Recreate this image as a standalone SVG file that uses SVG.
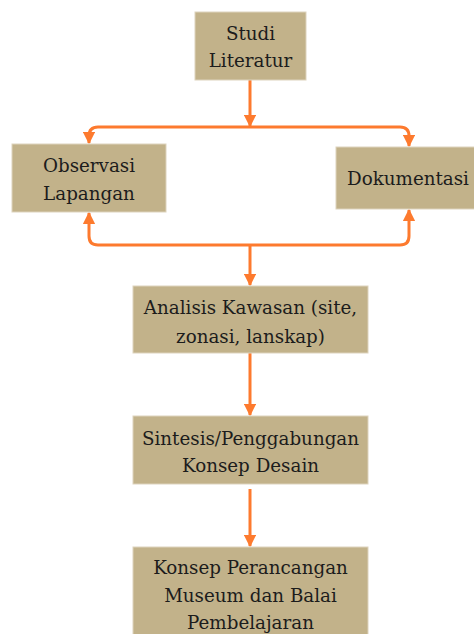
<svg xmlns="http://www.w3.org/2000/svg" width="474" height="634" viewBox="0 0 474 634">
<defs>
<style>
.box{fill:#c2b28a;stroke:#ddd3bd;stroke-width:1}
.t{font-family:"DejaVu Serif","Liberation Serif",serif;font-size:18.3px;fill:#1c1c1c;text-anchor:middle;dominant-baseline:central}
.c{fill:none;stroke:#fd7a2e;stroke-width:3;stroke-linejoin:round}
</style>
<marker id="ah" viewBox="0 0 10 10" refX="9" refY="5" markerWidth="4.2" markerHeight="4.2" orient="auto" markerUnits="strokeWidth">
<path d="M0,0 L10,5 L0,10 z" fill="#fd7a2e"/>
</marker>
</defs>
<rect width="474" height="634" fill="#fff"/>
<g id="connectors">
<path class="c" d="M250,80 V126" marker-end="url(#ah)"/>
<path class="c" d="M250,127 H98 Q89,127 89,136 V143" marker-end="url(#ah)"/>
<path class="c" d="M250,127 H400 Q409,127 409,136 V146" marker-end="url(#ah)"/>
<path class="c" d="M250,245 H98 Q89,245 89,236 V213" marker-end="url(#ah)"/>
<path class="c" d="M250,245 H400 Q409,245 409,236 V210" marker-end="url(#ah)"/>
<path class="c" d="M250,245 V285" marker-end="url(#ah)"/>
<path class="c" d="M250,353 V415" marker-end="url(#ah)"/>
<path class="c" d="M250,489 V546" marker-end="url(#ah)"/>
</g>
<g id="studi">
<rect class="box" x="195" y="12" width="111" height="68"/>
<text class="t" x="250.5" y="33">Studi</text>
<text class="t" x="250.5" y="60">Literatur</text>
</g>
<g id="observasi">
<rect class="box" x="12" y="144" width="154" height="68"/>
<text class="t" x="89" y="165">Observasi</text>
<text class="t" x="89" y="193">Lapangan</text>
</g>
<g id="dokumentasi">
<rect class="box" x="336" y="147" width="140" height="62"/>
<text class="t" x="408" y="178">Dokumentasi</text>
</g>
<g id="analisis">
<rect class="box" x="133" y="286" width="235" height="67"/>
<text class="t" x="250.5" y="307">Analisis Kawasan (site,</text>
<text class="t" x="250.5" y="336">zonasi, lanskap)</text>
</g>
<g id="sintesis">
<rect class="box" x="133" y="416" width="235" height="68"/>
<text class="t" x="250.5" y="438">Sintesis/Penggabungan</text>
<text class="t" x="250.5" y="465">Konsep Desain</text>
</g>
<g id="konsep">
<rect class="box" x="133" y="547" width="235" height="90"/>
<text class="t" x="250.5" y="567">Konsep Perancangan</text>
<text class="t" x="250.5" y="595">Museum dan Balai</text>
<text class="t" x="250.5" y="622">Pembelajaran</text>
</g>
</svg>
